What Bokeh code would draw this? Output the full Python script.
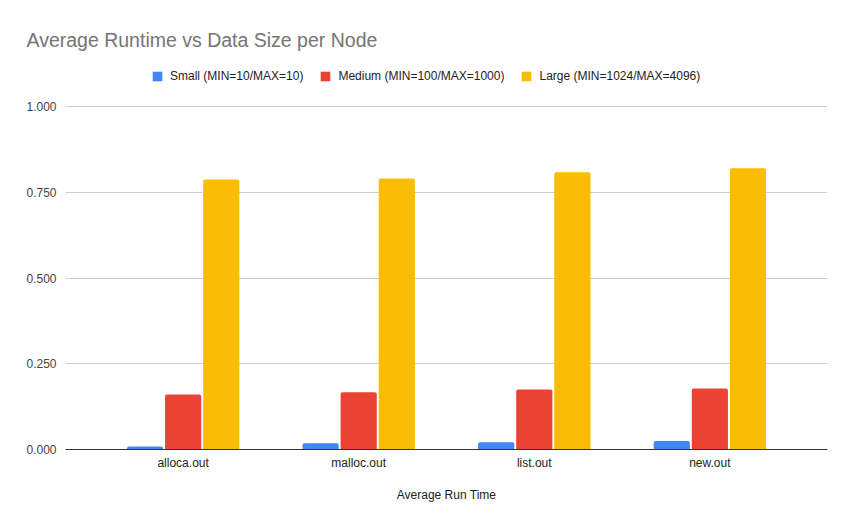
from bokeh.plotting import figure
from bokeh.models import (FactorRange, Range1d, ColumnDataSource, Legend, LegendItem,
                          FixedTicker, NumeralTickFormatter)
from bokeh.transform import dodge
from bokeh.embed import file_html
from bokeh.resources import INLINE

categories = ["alloca.out", "malloc.out", "list.out", "new.out"]
small = [0.009, 0.018, 0.021, 0.025]
medium = [0.160, 0.167, 0.175, 0.178]
large = [0.787, 0.790, 0.808, 0.820]
series_names = ["Small (MIN=10/MAX=10)", "Medium (MIN=100/MAX=1000)", "Large (MIN=1024/MAX=4096)"]
colors = ["#4285F4", "#EA4335", "#FBBC04"]
y_ticks = [0.0, 0.25, 0.5, 0.75, 1.0]

FONT = "Liberation Sans"

src = ColumnDataSource(dict(cat=categories, small=small, medium=medium, large=large))

# frame extends above 1.0 to leave room for the legend row (no ticks/grid above 1.0)
p = figure(width=853, height=528, output_backend="svg", toolbar_location=None,
           x_range=FactorRange(*categories, range_padding=0.085),
           y_range=Range1d(0, 1.1458),
           min_border_left=65, min_border_right=26, min_border_bottom=79, min_border_top=56)

p.title.text = "Average Runtime vs Data Size per Node"
p.title.text_font = FONT
p.title.text_font_size = "19.5px"
p.title.text_font_style = "normal"
p.title.text_color = "#757575"
p.title.offset = -39
p.title.standoff = 12

renderers = []
for key, off, col in zip(["small", "medium", "large"], [-0.217, 0.0, 0.217], colors):
    r = p.vbar(x=dodge("cat", off, range=p.x_range), top=key, width=0.206, source=src,
               fill_color=col, line_color=None, border_radius=(2, 2, 0, 0))
    renderers.append(r)

legend = Legend(items=[LegendItem(label=n, renderers=[r]) for n, r in zip(series_names, renderers)],
                orientation="horizontal", location=(86, 366),
                label_text_font=FONT, label_text_font_size="12px", label_text_color="#222222",
                glyph_width=12, glyph_height=12, spacing=16, label_standoff=7,
                border_line_color=None, background_fill_alpha=0, padding=0, margin=0)
p.add_layout(legend)

p.outline_line_color = None
p.xgrid.grid_line_color = None
p.ygrid.grid_line_color = "#CCCCCC"
p.ygrid.ticker = FixedTicker(ticks=y_ticks)

p.yaxis.ticker = FixedTicker(ticks=y_ticks)
p.yaxis.formatter = NumeralTickFormatter(format="0.000")
p.yaxis.axis_line_color = None
p.yaxis.major_tick_line_color = None
p.yaxis.minor_tick_line_color = None
p.yaxis.major_tick_out = 0
p.yaxis.major_tick_in = 0
p.yaxis.major_label_text_font = FONT
p.yaxis.major_label_text_font_size = "12px"
p.yaxis.major_label_text_color = "#444444"
p.yaxis.major_label_standoff = 9

p.xaxis.axis_line_color = "#333333"
p.xaxis.axis_line_width = 1
p.xaxis.major_tick_line_color = None
p.xaxis.minor_tick_line_color = None
p.xaxis.major_tick_out = 0
p.xaxis.major_tick_in = 0
p.xaxis.major_label_text_font = FONT
p.xaxis.major_label_text_font_size = "12px"
p.xaxis.major_label_text_color = "#222222"
p.xaxis.major_label_standoff = 6
p.xaxis.axis_label = "Average Run Time"
p.xaxis.axis_label_text_font = FONT
p.xaxis.axis_label_text_font_size = "12px"
p.xaxis.axis_label_text_font_style = "normal"
p.xaxis.axis_label_text_color = "#222222"
p.xaxis.axis_label_standoff = 15

with open("out.html", "w") as f:
    f.write(file_html(p, INLINE))
